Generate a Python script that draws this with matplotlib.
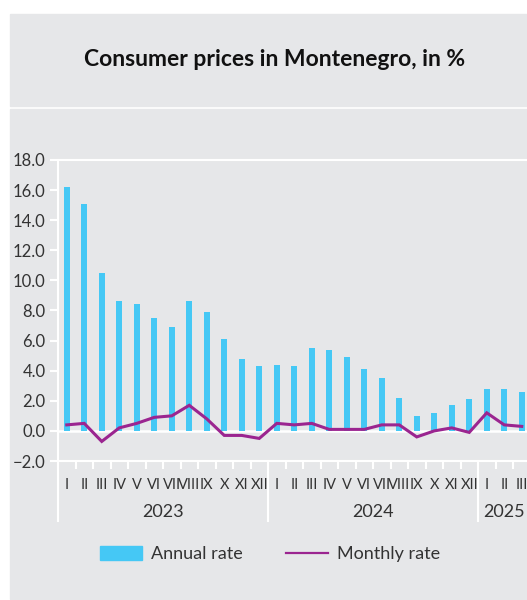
import matplotlib.pyplot as plt
from matplotlib.patches import Rectangle
from matplotlib.lines import Line2D

months = ["I", "II", "III", "IV", "V", "VI", "VII", "VIII", "IX", "X", "XI", "XII"] * 2 + ["I", "II", "III"]
years = ["2023", "2024", "2025"]
year_len = [12, 12, 3]

annual = [16.2, 15.1, 10.5, 8.6, 8.4, 7.5, 6.9, 8.6, 7.9, 6.1, 4.8, 4.3,
          4.4, 4.3, 5.5, 5.4, 4.9, 4.1, 3.5, 2.2, 1.0, 1.2, 1.7, 2.1,
          2.8, 2.8, 2.6]
monthly = [0.4, 0.5, -0.7, 0.2, 0.5, 0.9, 1.0, 1.7, 0.8, -0.3, -0.3, -0.5,
           0.5, 0.4, 0.5, 0.1, 0.1, 0.1, 0.4, 0.4, -0.4, 0.0, 0.2, -0.1,
           1.2, 0.4, 0.3]

BG = "#e6e7e9"
BLUE = "#45c8f5"
PURPLE = "#9b2590"
TXT = "#333333"
plt.rcParams["font.family"] = ["Lato", "DejaVu Sans"]

W, H = 527, 600
fig = plt.figure(figsize=(W / 100, H / 100), dpi=100)
fig.patch.set_facecolor("white")

# grey panels
fig.patches.append(Rectangle((10 / W, 1 - 105.5 / H), 517 / W, 91.5 / H,
                             transform=fig.transFigure, color=BG, zorder=-5))
fig.patches.append(Rectangle((10 / W, 1 / H), 517 / W, 490 / H,
                             transform=fig.transFigure, color=BG, zorder=-5))
fig.text(275 / W, 1 - 60 / H, "Consumer prices in Montenegro, in %",
         ha="center", va="center", fontsize=16.5, fontweight="bold", color="#111111")

ax = fig.add_axes([58 / W, 1 - 461 / H, 472.5 / W, 301 / H])
ax.set_facecolor("none")
x = list(range(len(annual)))
ax.bar(x, annual, width=0.36, color=BLUE, zorder=2)
ax.plot(x, monthly, color=PURPLE, lw=2.2, zorder=3, solid_joinstyle="miter")
ax.axhline(0, color="white", lw=1.8, zorder=1)

ax.set_xlim(-0.5, len(annual) - 0.5)
ax.set_ylim(-2, 18)
ax.set_yticks(range(-2, 19, 2))
ax.set_yticklabels([f"{v:.1f}".replace("-", "\u2212") for v in range(-2, 19, 2)])
ax.tick_params(axis="y", colors="white", length=6, width=1.5, labelcolor=TXT,
               labelsize=12, pad=3)

for s in ["left", "top", "bottom"]:
    ax.spines[s].set_color("white")
    ax.spines[s].set_linewidth(1.5)
ax.spines["right"].set_visible(False)

# month ticks at boundaries, labels at centres
ax.set_xticks([i - 0.5 for i in range(len(annual) + 1)])
ax.set_xticklabels([])
ax.tick_params(axis="x", which="major", colors="white", length=6, width=1.5)
ax.set_xticks(x, minor=True)
ax.set_xticklabels(months, minor=True)
ax.tick_params(axis="x", which="minor", length=0, labelsize=10.5, labelcolor=TXT, pad=12)

start = -0.5
for yr, n in zip(years, year_len):
    ax.plot([start, start], [0, -0.2], color="white", lw=1.5,
            transform=ax.get_xaxis_transform(), clip_on=False)
    ax.text(start + n / 2, -0.169, yr, ha="center", va="center", fontsize=13,
            color=TXT, transform=ax.get_xaxis_transform())
    start += n

handles = [Rectangle((0, 0), 1, 1, color=BLUE),
           Line2D([0], [0], color=PURPLE, lw=1.6)]
fig.legend(handles, ["Annual rate", "Monthly rate"], loc="center",
           bbox_to_anchor=(270 / W, 1 - 554 / H), ncol=2, frameon=False,
           fontsize=13, handlelength=2.3, handleheight=0.8, columnspacing=2.4,
           handletextpad=0.5, labelcolor=TXT)

fig.savefig("out.png", dpi=100)
